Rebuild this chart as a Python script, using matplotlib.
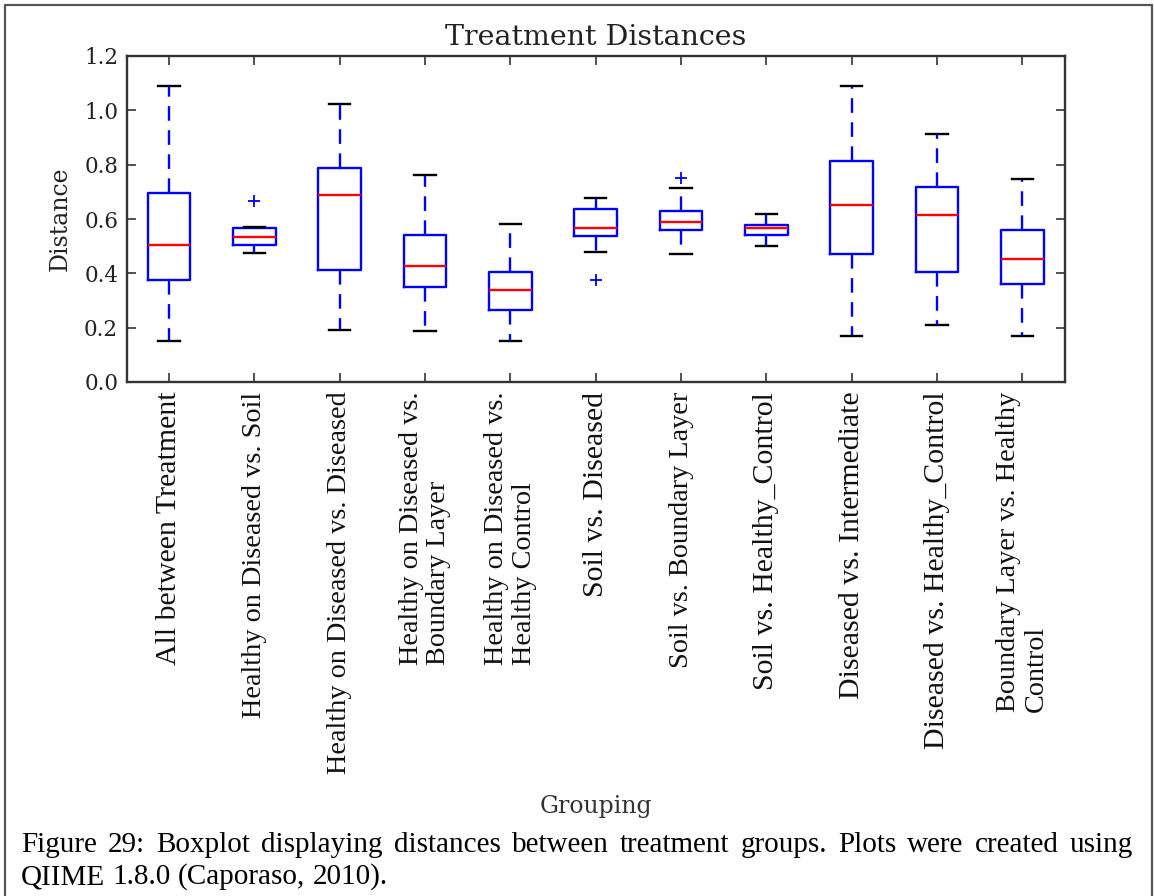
import numpy as np
import matplotlib
matplotlib.use("Agg")
import matplotlib.pyplot as plt
from matplotlib.lines import Line2D

# groupings (tick labels) and box statistics
groups = ["All between Treatment",
          "Healthy on Diseased vs. Soil",
          "Healthy on Diseased vs. Diseased",
          "Healthy on Diseased vs.\nBoundary Layer",
          "Healthy on Diseased vs.\nHealthy Control",
          "Soil vs. Diseased",
          "Soil vs. Boundary Layer",
          "Soil vs. Healthy_Control",
          "Diseased vs. Intermediate",
          "Diseased vs. Healthy_Control",
          "Boundary Layer vs. Healthy\nControl"]
medians = [0.506, 0.532, 0.688, 0.428, 0.338, 0.568, 0.590, 0.568, 0.651, 0.614, 0.453]
q1 = [0.377, 0.506, 0.412, 0.350, 0.264, 0.539, 0.559, 0.541, 0.473, 0.405, 0.359]
q3 = [0.695, 0.568, 0.786, 0.541, 0.405, 0.635, 0.630, 0.579, 0.813, 0.719, 0.559]
whislo = [0.151, 0.475, 0.193, 0.187, 0.151, 0.479, 0.473, 0.500, 0.171, 0.209, 0.171]
whishi = [1.091, 0.571, 1.023, 0.762, 0.580, 0.676, 0.715, 0.620, 1.090, 0.912, 0.746]
fliers = [[], [0.666], [], [], [], [0.375], [0.752], [], [], [], []]
yticks = [0.0, 0.2, 0.4, 0.6, 0.8, 1.0, 1.2]

caption = ["Figure 29: Boxplot displaying distances between treatment groups. Plots were created using",
           "QIIME 1.8.0 (Caporaso, 2010)."]

# some of the group labels in the original were retyped a bit smaller
label_sizes = [21.5, 20.3, 20.3, 20.3, 20.3, 21.5, 20.3, 21.5, 21.5, 21.5, 20.3]

W, H = 1154, 896
fig = plt.figure(figsize=(W / 100, H / 100), dpi=100)
fig.patch.set_facecolor("white")

ax = fig.add_axes([126.5 / W, 1 - 382 / H, 938.5 / W, 326 / H])

stats = []
for i in range(len(groups)):
    stats.append(dict(med=medians[i], q1=q1[i], q3=q3[i],
                      whislo=whislo[i], whishi=whishi[i],
                      fliers=np.array(fliers[i]), label=groups[i]))

pos = np.arange(1, len(groups) + 1)
ax.bxp(stats, positions=pos, widths=0.5, manage_ticks=False,
       boxprops=dict(color="#0000ff", linewidth=1.7),
       whiskerprops=dict(color="#0000ff", linewidth=1.7, linestyle=(0, (6.2, 4.0))),
       capprops=dict(color="black", linewidth=1.7),
       medianprops=dict(color="#ff0000", linewidth=1.7),
       flierprops=dict(marker="+", markeredgecolor="#0000ff", markersize=9,
                       markeredgewidth=1.3, linestyle="none"))

ax.set_xlim(0.5, len(groups) + 0.5)
ax.set_ylim(0, 1.2)
ax.set_yticks(yticks)
ax.set_yticklabels(["%.1f" % v for v in yticks], family="DejaVu Serif",
                   fontsize=15.5, color="#222222")
ax.set_xticks(pos)
ax.set_xticklabels(groups, rotation=90, family="Liberation Serif",
                   ha="center", va="top", multialignment="left",
                   linespacing=1.12, color="#111111")
for lab, fs in zip(ax.get_xticklabels(), label_sizes):
    lab.set_fontsize(fs)
ax.tick_params(direction="in", length=6.5, width=1.2, top=True, right=True,
               color="#333333")
ax.tick_params(axis="x", pad=7)
ax.tick_params(axis="y", pad=6)
for s in ax.spines.values():
    s.set_linewidth(1.7)
    s.set_color("#333333")

ax.set_title("Treatment Distances", family="DejaVu Serif", fontsize=20.5,
             color="#222222", pad=8)
ax.set_ylabel("Distance", family="DejaVu Serif", fontsize=17, color="#222222",
              va="center")
ax.yaxis.set_label_coords((60 - 126.5) / 938.5, 0.5)
ax.set_xlabel("Grouping", family="DejaVu Serif", fontsize=17, color="#333333",
              va="center")
ax.xaxis.set_label_coords(0.5, (382 - 806) / 326)

# frame around the figure (open at the bottom)
fig.add_artist(Line2D([4.5 / W, 4.5 / W, 1152 / W, 1152 / W],
                      [-0.02, 1 - 5 / H, 1 - 5 / H, -0.02],
                      transform=fig.transFigure, color="#555555", linewidth=1.6))

# justified caption, first line stretched over the text width
renderer = fig.canvas.get_renderer()
cap_size = 21
x0, x1 = 21, 1133
baselines = [852, 884]
for k, line in enumerate(caption):
    words = line.split()
    texts = [fig.text(0, 1 - baselines[k] / H, w, family="Liberation Serif",
                      fontsize=cap_size, va="baseline", ha="left", color="black")
             for w in words]
    widths = [t.get_window_extent(renderer).width for t in texts]
    if k < len(caption) - 1:
        gap = (x1 - x0 - sum(widths)) / (len(words) - 1)
    else:
        sp = fig.text(0, 0, "a a", family="Liberation Serif", fontsize=cap_size)
        sa = fig.text(0, 0, "aa", family="Liberation Serif", fontsize=cap_size)
        gap = sp.get_window_extent(renderer).width - sa.get_window_extent(renderer).width
        sp.remove()
        sa.remove()
    x = x0
    for t, w in zip(texts, widths):
        t.set_x(x / W)
        x += w + gap

fig.savefig("out.png", dpi=100, facecolor="white")
